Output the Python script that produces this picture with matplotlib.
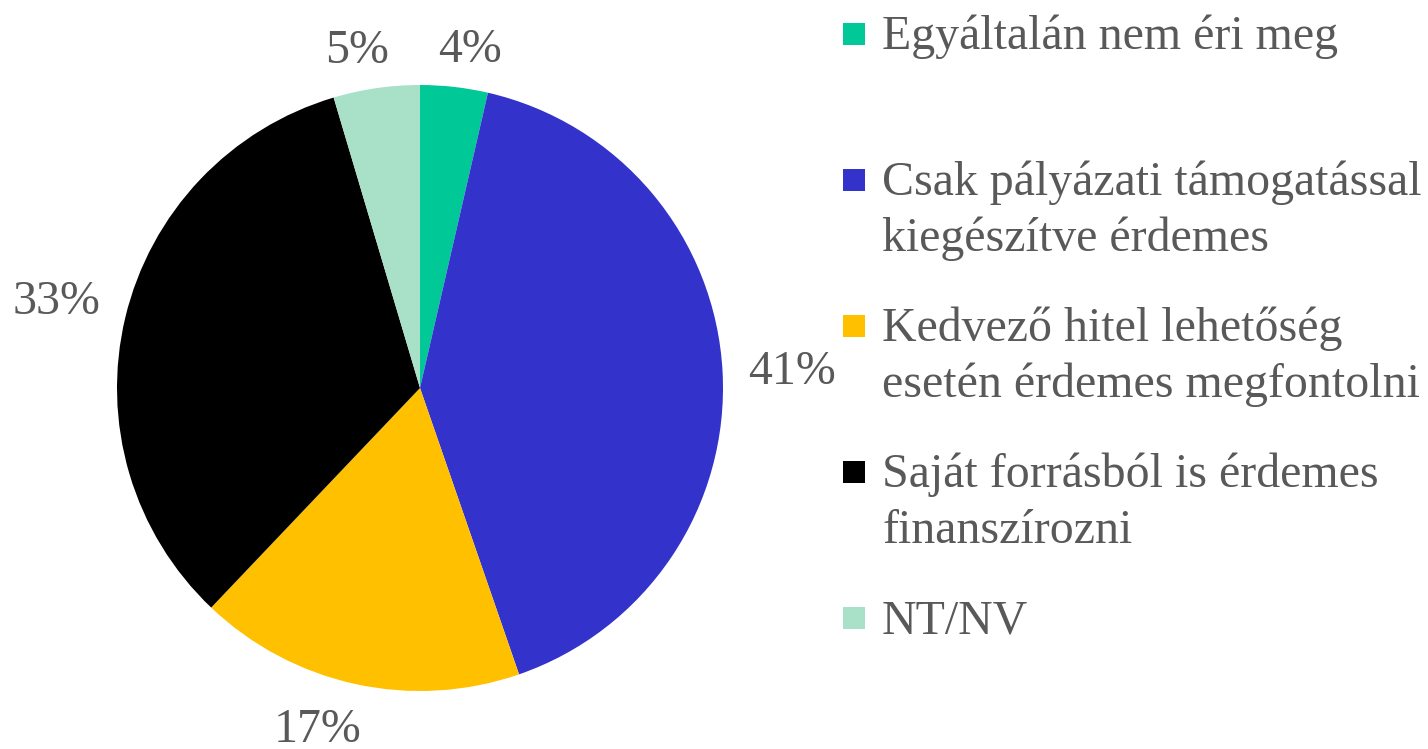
import matplotlib.pyplot as plt
import numpy as np
from matplotlib.patches import Rectangle

plt.rcParams['font.family'] = ['Liberation Serif', 'DejaVu Serif']

categories = ['Egyáltalán nem éri meg',
              'Csak pályázati támogatással\nkiegészítve érdemes',
              'Kedvező hitel lehetőség\nesetén érdemes megfontolni',
              'Saját forrásból is érdemes\nfinanszírozni',
              'NT/NV']
# shares; labels show them rounded
values = [3.6, 41.1, 17.4, 33.3, 4.6]
colors = ['#00C896', '#3333CC', '#FFC000', '#000000', '#A8E0C8']
text_color = '#595959'

W, H = 1428, 749
fig = plt.figure(figsize=(W / 100, H / 100), dpi=100)

# pie centre (420, 388) px, radius 303 px
cx, cy, r = 420, 388, 303
ax = fig.add_axes([(cx - r) / W, (H - cy - r) / H, 2 * r / W, 2 * r / H])

wedges = ax.pie(values, colors=colors, startangle=90, counterclock=False,
                wedgeprops=dict(linewidth=0))[0]
ax.set_xlim(-1, 1)
ax.set_ylim(-1, 1)
ax.set_aspect('equal')
ax.axis('off')

# percentage labels outside the edge, box pushed away like Excel does
fig.canvas.draw()
renderer = fig.canvas.get_renderer()
for w, v in zip(wedges, values):
    ang = np.deg2rad((w.theta1 + w.theta2) / 2)
    t = ax.text(0, 0, f'{v:.0f}%', ha='center', va='baseline', fontsize=34.5,
                color=text_color, clip_on=False)
    bb = t.get_window_extent(renderer=renderer)
    hw = bb.width / 2 / r
    hh = 16.5 / r  # half the digit height
    c, s = np.cos(ang), np.sin(ang)
    x = 1.083 * c + hw * np.clip(3.5 * c, -1, 1)
    y = 1.083 * s + hh * np.clip(3.5 * s, -1, 1)
    t.set_position((x, y - hh))

# legend drawn by hand: fixed slot height like the original
y0 = 34
step = 146
line_gap = 56
for i, (lab, c) in enumerate(zip(categories, colors)):
    yc = y0 + i * step
    fig.patches.append(Rectangle((843 / W, 1 - (yc + 11) / H), 22 / W, 22 / H,
                                 transform=fig.transFigure, facecolor=c,
                                 edgecolor='none'))
    for k, line in enumerate(lab.split('\n')):
        fig.text(882 / W, 1 - (yc + 15 + k * line_gap) / H, line, fontsize=34.5,
                 color=text_color, ha='left', va='baseline')

fig.savefig('out.png', dpi=100)
